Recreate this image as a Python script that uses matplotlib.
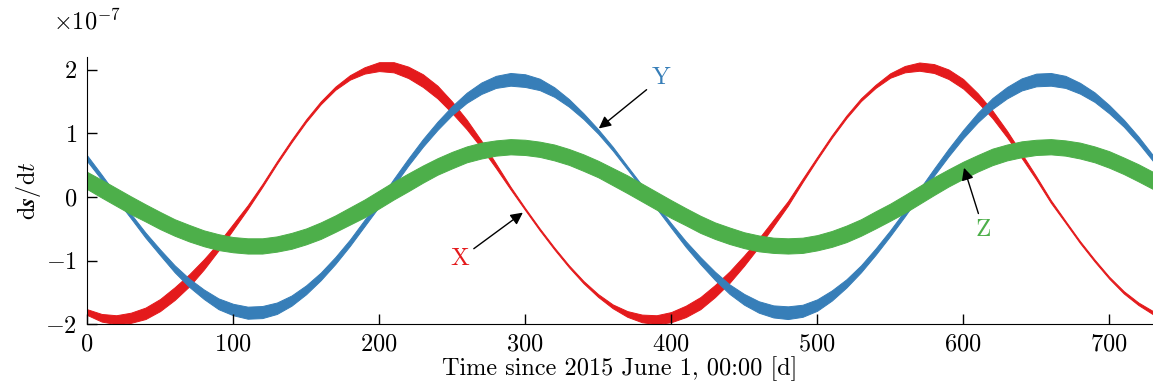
import numpy as np
import matplotlib
matplotlib.use("Agg")
import matplotlib.pyplot as plt

plt.rcParams['font.family'] = 'serif'
plt.rcParams['font.serif'] = ['cmr10']
plt.rcParams['mathtext.fontset'] = 'cm'
plt.rcParams['axes.formatter.use_mathtext'] = True

# time axis, days since 2015-06-01 (sampled every 10 days)
days = np.arange(0, 731, 10)

# ds/dt in units of 1e-7: centre of each band and half of the daily swing
x_mid = [-1.81, -1.90, -1.93, -1.90, -1.83, -1.70, -1.52, -1.31, -1.06, -0.78,
         -0.47, -0.16, 0.18, 0.54, 0.88, 1.20, 1.48, 1.71, 1.88, 1.99,
         2.05, 2.04, 1.96, 1.83, 1.65, 1.41, 1.14, 0.83, 0.49, 0.14,
         -0.19, -0.51, -0.81, -1.09, -1.34, -1.55, -1.72, -1.84, -1.91, -1.93,
         -1.89, -1.80, -1.67, -1.48, -1.26, -1.00, -0.72, -0.41, -0.10, 0.26,
         0.61, 0.95, 1.26, 1.53, 1.74, 1.91, 2.01, 2.05, 2.02, 1.93,
         1.78, 1.56, 1.30, 0.99, 0.65, 0.30, -0.07, -0.39, -0.71, -1.00,
         -1.27, -1.50, -1.68, -1.82]
x_swing = [0.045, 0.06, 0.07, 0.08, 0.09, 0.095, 0.10, 0.095, 0.08, 0.06,
           0.045, 0.03, 0.022, 0.02, 0.02, 0.02, 0.022, 0.025, 0.035, 0.05,
           0.07, 0.08, 0.09, 0.10, 0.10, 0.09, 0.075, 0.055, 0.035, 0.02,
           0.015, 0.015, 0.015, 0.015, 0.018, 0.022, 0.03, 0.045, 0.06, 0.07,
           0.08, 0.09, 0.095, 0.095, 0.09, 0.08, 0.065, 0.05, 0.035, 0.025,
           0.02, 0.02, 0.02, 0.022, 0.025, 0.035, 0.05, 0.065, 0.07, 0.075,
           0.075, 0.07, 0.06, 0.05, 0.035, 0.025, 0.02, 0.015, 0.015, 0.015,
           0.015, 0.018, 0.02, 0.025]

y_mid = [0.61, 0.31, 0.00, -0.30, -0.60, -0.87, -1.13, -1.35, -1.53, -1.68,
         -1.77, -1.82, -1.81, -1.75, -1.63, -1.46, -1.25, -1.00, -0.72, -0.41,
         -0.10, 0.23, 0.55, 0.85, 1.12, 1.36, 1.56, 1.71, 1.81, 1.85,
         1.83, 1.77, 1.65, 1.48, 1.27, 1.03, 0.76, 0.46, 0.16, -0.15,
         -0.45, -0.74, -1.00, -1.24, -1.45, -1.61, -1.73, -1.80, -1.82, -1.79,
         -1.70, -1.55, -1.36, -1.13, -0.86, -0.57, -0.26, 0.07, 0.39, 0.70,
         0.99, 1.25, 1.47, 1.64, 1.77, 1.84, 1.85, 1.81, 1.71, 1.57,
         1.38, 1.16, 0.90, 0.61]
y_swing = [0.045, 0.04, 0.035, 0.035, 0.04, 0.045, 0.055, 0.065, 0.075, 0.085,
           0.09, 0.095, 0.095, 0.09, 0.08, 0.07, 0.06, 0.055, 0.05, 0.05,
           0.05, 0.055, 0.055, 0.06, 0.065, 0.07, 0.08, 0.09, 0.095, 0.10,
           0.10, 0.09, 0.075, 0.06, 0.045, 0.035, 0.03, 0.025, 0.025, 0.03,
           0.035, 0.045, 0.055, 0.065, 0.075, 0.085, 0.09, 0.095, 0.10, 0.095,
           0.09, 0.08, 0.065, 0.055, 0.05, 0.045, 0.045, 0.05, 0.055, 0.06,
           0.065, 0.075, 0.085, 0.09, 0.095, 0.10, 0.10, 0.095, 0.085, 0.075,
           0.065, 0.055, 0.05, 0.045]

z_mid = [0.26, 0.13, 0.00, -0.13, -0.25, -0.37, -0.48, -0.57, -0.65, -0.71,
         -0.75, -0.77, -0.77, -0.74, -0.69, -0.62, -0.53, -0.42, -0.30, -0.18,
         -0.04, 0.10, 0.23, 0.36, 0.48, 0.58, 0.67, 0.73, 0.77, 0.79,
         0.78, 0.75, 0.70, 0.63, 0.54, 0.44, 0.32, 0.20, 0.07, -0.06,
         -0.19, -0.31, -0.43, -0.53, -0.61, -0.68, -0.73, -0.76, -0.77, -0.76,
         -0.72, -0.66, -0.58, -0.48, -0.36, -0.24, -0.11, 0.03, 0.17, 0.30,
         0.42, 0.53, 0.63, 0.70, 0.75, 0.78, 0.79, 0.77, 0.73, 0.67,
         0.59, 0.49, 0.38, 0.26]
z_swing = [0.135, 0.14, 0.14, 0.14, 0.135, 0.135, 0.13, 0.13, 0.125, 0.125,
           0.12, 0.12, 0.12, 0.12, 0.125, 0.125, 0.13, 0.13, 0.135, 0.14,
           0.14, 0.14, 0.14, 0.135, 0.13, 0.13, 0.125, 0.125, 0.12, 0.12,
           0.12, 0.12, 0.125, 0.125, 0.13, 0.13, 0.135, 0.14, 0.14, 0.14,
           0.14, 0.135, 0.135, 0.13, 0.13, 0.125, 0.125, 0.12, 0.12, 0.12,
           0.12, 0.125, 0.13, 0.13, 0.135, 0.135, 0.14, 0.14, 0.14, 0.135,
           0.135, 0.13, 0.13, 0.125, 0.125, 0.12, 0.12, 0.12, 0.125, 0.125,
           0.13, 0.13, 0.135, 0.135]

x_ticks = [0, 100, 200, 300, 400, 500, 600, 700]
y_ticks = [-2, -1, 0, 1, 2]

red = '#e41a1c'
blue = '#377eb8'
green = '#4daf4a'

fig = plt.figure(figsize=(11.53, 3.91), dpi=100)
ax = fig.add_axes([0.0755, 0.171, 0.9245, 0.683])

for mid, swing, col in [(x_mid, x_swing, red), (y_mid, y_swing, blue), (z_mid, z_swing, green)]:
    mid = np.array(mid)
    swing = np.array(swing)
    ax.fill_between(days, mid - swing, mid + swing, color=col, lw=0.7)

ax.set_xlim(0, 730)
ax.set_ylim(-2, 2.2)
ax.set_xticks(x_ticks)
ax.set_yticks(y_ticks)
ax.tick_params(direction='in', length=7.5, width=1, labelsize=17.5, pad=7)
ax.spines['top'].set_visible(False)
ax.spines['right'].set_visible(False)
ax.set_xlabel('Time since 2015 June 1, 00:00 [d]', fontsize=17.5, labelpad=0)
ax.set_ylabel(r'$\mathrm{d}\boldsymbol{s}/\mathrm{d}t$', fontsize=17.5, labelpad=2)
ax.text(0, 1.105, r'$\times10^{-7}$', transform=ax.transAxes, ha='center',
        va='baseline', fontsize=17.5)

arrow = dict(arrowstyle='-|>', color='black', lw=1, mutation_scale=18)
ax.annotate('X', xy=(300, -0.22), xytext=(255, -0.98), color=red, fontsize=18,
            ha='center', va='center', arrowprops=arrow)
ax.annotate('Y', xy=(349, 1.05), xytext=(393, 1.87), color=blue, fontsize=18,
            ha='center', va='center', arrowprops=arrow)
ax.annotate('Z', xy=(600, 0.50), xytext=(614, -0.52), color=green, fontsize=18,
            ha='center', va='center', arrowprops=arrow)

fig.savefig('out.png', dpi=100)
